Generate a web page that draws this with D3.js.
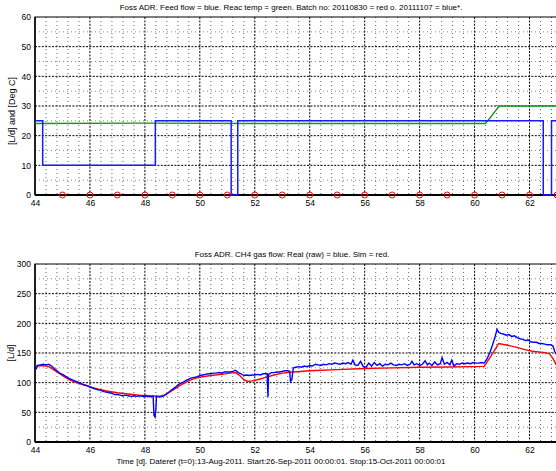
<!DOCTYPE html>
<html>
<head>
<meta charset="utf-8">
<script src="https://cdn.jsdelivr.net/npm/d3@7"></script>
<style>
  html, body { margin: 0; padding: 0; background: #fff; }
  svg { display: block; }
  text { font-family: "Liberation Sans", Arial, Helvetica, sans-serif; fill: #000; }
</style>
</head>
<body>
<svg id="chart" width="556" height="471"></svg>
<script>
// ---- shared time axis (days since dateref) ----
const dayDomain = [44, 63];
const dayTicks = [44, 46, 48, 50, 52, 54, 56, 58, 60, 62];

// ---- upper panel: feed flow, reactor temperature, batch markers ----
const feedDays = [44.0, 44.28, 44.28, 48.38, 48.38, 51.14, 51.14, 51.38, 51.38, 62.5, 62.5, 62.8, 62.8, 63.0];
const feedFlow = [25, 25, 10, 10, 25, 25, 0, 0, 25, 25, 0, 0, 25, 25];
const tempDays = [44.0, 48.0, 52.0, 56.0, 60.4, 60.9, 62.0, 63.0];
const tempDegC = [24.1, 24.2, 24.1, 24.1, 24.1, 30.0, 30.0, 30.0];
const batchDays = [45, 46, 47, 48, 49, 50, 51, 52, 53, 54, 55, 56, 57, 58, 59, 60, 61, 62, 63];
const topTicks = [0, 10, 20, 30, 40, 50, 60];

// ---- lower panel: CH4 gas flow, measured (raw) and simulated ----
const rawDays = [
  44.00, 44.05, 44.10, 44.20, 44.30, 44.40, 44.50, 44.60, 44.70, 44.80, 44.90,
  45.00, 45.10, 45.20, 45.30, 45.40, 45.50, 45.60, 45.70, 45.80, 45.90,
  46.00, 46.10, 46.20, 46.30, 46.40, 46.50, 46.60, 46.70, 46.80, 46.90,
  47.00, 47.10, 47.20, 47.30, 47.40, 47.50, 47.60, 47.70, 47.80, 47.90,
  48.00, 48.10, 48.20, 48.30, 48.33, 48.37, 48.40, 48.42, 48.50, 48.60, 48.70, 48.80, 48.90,
  49.00, 49.10, 49.20, 49.30, 49.40, 49.50, 49.60, 49.70, 49.80, 49.90,
  50.00, 50.10, 50.20, 50.30, 50.40, 50.50, 50.60, 50.70, 50.80, 50.90,
  51.00, 51.10, 51.20, 51.30, 51.40, 51.50, 51.60, 51.70, 51.80, 51.90,
  52.00, 52.10, 52.20, 52.30, 52.40, 52.45, 52.48, 52.50, 52.60, 52.70, 52.80, 52.90,
  53.00, 53.10, 53.20, 53.27, 53.30, 53.35, 53.40, 53.50, 53.60, 53.70, 53.80, 53.90,
  54.00, 54.10, 54.20, 54.30, 54.40, 54.50, 54.60, 54.70, 54.80, 54.90,
  55.00, 55.10, 55.20, 55.30, 55.40, 55.50, 55.57, 55.65, 55.75, 55.85, 55.95,
  56.05, 56.15, 56.25, 56.35, 56.45, 56.55, 56.65, 56.75, 56.85, 56.95,
  57.05, 57.15, 57.25, 57.35, 57.45, 57.55, 57.65, 57.72, 57.80, 57.90,
  58.00, 58.10, 58.20, 58.28, 58.35, 58.45, 58.55, 58.65, 58.75, 58.82, 58.90,
  59.00, 59.10, 59.17, 59.25, 59.35, 59.45, 59.55, 59.65, 59.75, 59.85, 59.95,
  60.05, 60.15, 60.25, 60.35, 60.45, 60.55, 60.65, 60.75, 60.82, 60.88, 60.95,
  61.05, 61.15, 61.25, 61.35, 61.45, 61.55, 61.65, 61.75, 61.85, 61.95,
  62.05, 62.15, 62.25, 62.35, 62.45, 62.55, 62.65, 62.75, 62.85, 62.92, 63.00
];
const rawFlow = [
  128, 124, 129, 130, 131, 130, 131, 128, 124, 120, 116,
  114, 111, 108, 106, 104, 102, 100, 98, 96, 95,
  93, 91, 89, 88, 87, 85, 84, 83, 82, 80,
  80, 79, 78, 79, 78, 77, 78, 77, 78, 77,
  77, 77, 76, 77, 45, 42, 55, 77, 76, 76, 78, 81, 85,
  89, 92, 96, 99, 101, 104, 106, 108, 109, 110,
  112, 113, 114, 115, 115, 116, 116, 117, 116, 118,
  118, 118, 119, 121, 117, 115, 112, 113, 112, 113,
  113, 114, 113, 115, 115, 115, 76, 114, 117, 117, 118, 118,
  119, 120, 120, 119, 102, 105, 125, 126, 127, 126, 128, 127,
  129, 128, 131, 130, 129, 131, 130, 132, 131, 133,
  132, 131, 133, 132, 134, 131, 138, 130, 129, 136, 127,
  126, 133, 128, 134, 129, 132, 128, 131, 130, 133,
  130, 129, 131, 130, 132, 129, 131, 136, 130, 132,
  129, 131, 137, 130, 133, 129, 135, 130, 132, 142, 131,
  134, 130, 138, 128, 132, 131, 133, 132, 133, 132, 134,
  133, 133, 134, 133, 140, 150, 163, 178, 190, 185, 183,
  182, 180, 181, 178, 179, 176, 174, 173, 171, 172,
  169, 168, 168, 166, 166, 165, 164, 164, 162, 152, 146
];
const simDays = [
  44.0, 44.3, 44.5, 44.7, 44.9, 45.1, 45.3, 45.5, 45.8, 46.0, 46.3, 46.6,
  47.0, 47.4, 47.8, 48.2, 48.5, 48.7, 48.9, 49.1, 49.3, 49.5, 49.7, 49.9,
  50.1, 50.4, 50.8, 51.1, 51.3, 51.45, 51.6, 51.75, 51.9, 52.1, 52.4, 52.7,
  53.0, 53.4, 54.0, 55.0, 56.0, 57.0, 58.0, 59.0, 60.0, 60.35, 60.6, 60.88,
  61.2, 61.5, 61.8, 62.1, 62.5, 62.72, 62.85, 63.0
];
const simFlow = [
  128, 129, 127, 121, 115, 109, 104, 100, 96, 93, 89, 86,
  83, 81, 79, 78, 77, 79, 84, 90, 96, 101, 105, 108,
  110, 112, 114, 116, 117, 112, 105, 102, 103, 105, 109, 113,
  116, 118, 120, 122, 124, 125, 126, 126.5, 127, 127.5, 145, 166,
  163, 160, 156, 153, 151, 149, 141, 128
];
const bottomTicks = [0, 50, 100, 150, 200, 250, 300];

const titles = {
  top: "Foss ADR. Feed flow = blue. Reac temp = green. Batch no: 20110830 = red o. 20111107 = blue*.",
  bottom: "Foss ADR. CH4 gas flow: Real (raw) = blue. Sim = red.",
  xlabel: "Time [d]. Dateref (t=0):13-Aug-2011. Start:26-Sep-2011 00:00:01. Stop:15-Oct-2011 00:00:01",
  yTop: "[L/d] and [Deg C]",
  yBottom: "[L/d]"
};

// ---- drawing ----
const svg = d3.select("#chart");
const plotLeft = 35, plotRight = 557;
const x = d3.scaleLinear().domain(dayDomain).range([plotLeft, plotRight]);

function minorSteps(domain, step) {
  const out = [];
  for (let v = domain[0]; v <= domain[1] + 1e-9; v += step) out.push(+v.toFixed(6));
  return out;
}

function panel(opts) {
  const y = d3.scaleLinear().domain(opts.yDomain).range([opts.bottom, opts.top]);
  const g = svg.append("g");
  const clipId = "clip-" + opts.name;
  svg.append("clipPath").attr("id", clipId)
    .append("rect")
    .attr("x", plotLeft).attr("y", opts.top - 4)
    .attr("width", plotRight - plotLeft).attr("height", opts.bottom - opts.top + 8);

  // minor grid (light dotted)
  const xMinor = minorSteps(dayDomain, 0.4).filter(v => Math.abs(v / 2 - Math.round(v / 2)) > 1e-6);
  const yMinor = minorSteps(opts.yDomain, opts.yMinorStep).filter(v => !opts.ticks.includes(v));
  g.append("g").selectAll("line").data(xMinor).join("line")
    .attr("x1", d => x(d)).attr("x2", d => x(d))
    .attr("y1", opts.top).attr("y2", opts.bottom)
    .attr("stroke", "#666").attr("stroke-width", 1).attr("stroke-dasharray", "1,3");
  g.append("g").selectAll("line").data(yMinor).join("line")
    .attr("x1", plotLeft).attr("x2", plotRight)
    .attr("y1", d => y(d)).attr("y2", d => y(d))
    .attr("stroke", "#888").attr("stroke-width", 1).attr("stroke-dasharray", "1,3");

  // major grid (black dotted)
  g.append("g").selectAll("line").data(dayTicks.filter(d => d > dayDomain[0])).join("line")
    .attr("x1", d => x(d)).attr("x2", d => x(d))
    .attr("y1", opts.top).attr("y2", opts.bottom)
    .attr("stroke", "#000").attr("stroke-width", 1).attr("stroke-dasharray", "2,1.4");
  g.append("g").selectAll("line").data(opts.ticks.filter(d => d > opts.yDomain[0] && d < opts.yDomain[1])).join("line")
    .attr("x1", plotLeft).attr("x2", plotRight)
    .attr("y1", d => y(d)).attr("y2", d => y(d))
    .attr("stroke", "#000").attr("stroke-width", 1).attr("stroke-dasharray", "2,1.4");

  // axes box
  g.append("rect")
    .attr("x", plotLeft).attr("y", opts.top)
    .attr("width", plotRight - plotLeft).attr("height", opts.bottom - opts.top)
    .attr("fill", "none").attr("stroke", "#000").attr("stroke-width", 1);
  g.append("line")
    .attr("x1", plotLeft).attr("x2", plotRight)
    .attr("y1", opts.bottom).attr("y2", opts.bottom)
    .attr("stroke", "#000").attr("stroke-width", 2);
  g.append("line")
    .attr("x1", plotLeft).attr("x2", plotLeft)
    .attr("y1", opts.top).attr("y2", opts.bottom)
    .attr("stroke", "#000").attr("stroke-width", 1.5);

  // tick labels
  const xAxis = d3.axisBottom(x).tickValues(dayTicks).tickSize(0).tickPadding(0).tickFormat(d3.format("d"));
  const xa = svg.append("g").attr("transform", `translate(0,${opts.bottom + 4.5})`).call(xAxis);
  xa.select(".domain").remove();
  xa.selectAll("text").attr("dy", "0.71em").style("font-size", "8.5px")
    .style("font-family", "'Liberation Sans', Arial, sans-serif").attr("fill", "#000");

  const yAxis = d3.axisLeft(y).tickValues(opts.ticks).tickSize(0).tickPadding(4).tickFormat(d3.format("d"));
  const ya = svg.append("g").attr("transform", `translate(${plotLeft},0)`).call(yAxis);
  ya.select(".domain").remove();
  ya.selectAll("text").style("font-size", "8.5px")
    .style("font-family", "'Liberation Sans', Arial, sans-serif").attr("fill", "#000");

  // title and y label
  svg.append("text").attr("x", opts.titleX).attr("y", opts.titleY)
    .attr("text-anchor", "middle").style("font-size", "8px").text(opts.title);
  svg.append("text")
    .attr("transform", `translate(${opts.ylabelX},${opts.ylabelY}) rotate(-90)`)
    .attr("text-anchor", "middle").attr("dy", "0.35em")
    .style("font-size", opts.ylabelSize).text(opts.ylabel);

  const plot = svg.append("g").attr("clip-path", `url(#${clipId})`);
  return { y, plot };
}

// upper panel
const up = panel({
  name: "top", top: 17, bottom: 195, yDomain: [0, 60], ticks: topTicks, yMinorStep: 5,
  title: titles.top, titleX: 291, titleY: 10, ylabel: titles.yTop, ylabelX: 12, ylabelY: 111,
  ylabelSize: "9px"
});
const lineTop = d3.line().x(d => x(d[0])).y(d => up.y(d[1]));
up.plot.append("path")
  .datum(d3.zip(tempDays, tempDegC))
  .attr("d", lineTop).attr("fill", "none").attr("stroke", "#119a11").attr("stroke-width", 1.3);
up.plot.append("path")
  .datum(d3.zip(feedDays, feedFlow))
  .attr("d", lineTop).attr("fill", "none").attr("stroke", "#1a1aff").attr("stroke-width", 1.5);
up.plot.append("g").selectAll("circle").data(batchDays).join("circle")
  .attr("cx", d => x(d)).attr("cy", up.y(0)).attr("r", 3)
  .attr("fill", "none").attr("stroke", "#ff0000").attr("stroke-width", 1);

// lower panel
const lo = panel({
  name: "bottom", top: 264, bottom: 442, yDomain: [0, 300], ticks: bottomTicks, yMinorStep: 25,
  title: titles.bottom, titleX: 292, titleY: 257, ylabel: titles.yBottom, ylabelX: 11, ylabelY: 353,
  ylabelSize: "8.5px"
});
const lineBottom = d3.line().x(d => x(d[0])).y(d => lo.y(d[1]));
lo.plot.append("path")
  .datum(d3.zip(simDays, simFlow))
  .attr("d", lineBottom).attr("fill", "none").attr("stroke", "#ff0000").attr("stroke-width", 1.4);
lo.plot.append("path")
  .datum(d3.zip(rawDays, rawFlow))
  .attr("d", lineBottom).attr("fill", "none").attr("stroke", "#0000ff").attr("stroke-width", 1.4);

svg.append("text").attr("x", 281).attr("y", 463.5)
  .attr("text-anchor", "middle").style("font-size", "8px").text(titles.xlabel);
</script>
</body>
</html>
